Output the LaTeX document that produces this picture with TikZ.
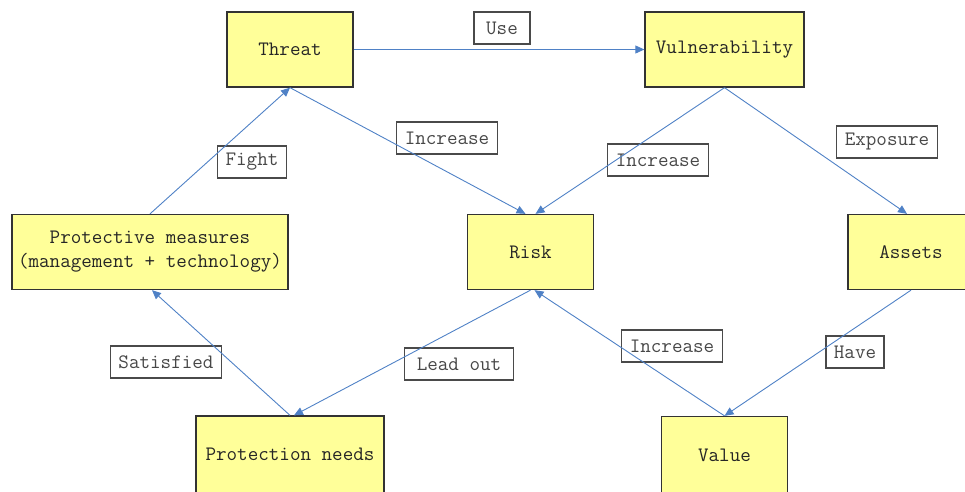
\documentclass[tikz,border=0pt]{standalone}
\usepackage{tikz}
\usetikzlibrary{arrows.meta,positioning}
\definecolor{boxfill}{HTML}{FFFF99}
\definecolor{boxline}{HTML}{333333}
\definecolor{arrowblue}{HTML}{4F81C6}
\definecolor{tagline}{HTML}{4A4A4A}

\begin{document}
\begin{tikzpicture}[x=1pt,y=-1pt,font=\ttfamily\fontsize{20.5}{24}\selectfont,
  block/.style={rectangle,draw=boxline,line width=1.3pt,fill=boxfill,text=black!85,
    minimum width=126pt,minimum height=75pt,align=center,inner sep=0pt},
  tag/.style={rectangle,draw=tagline,line width=1.3pt,text=black!72,
    inner xsep=8pt,inner ysep=0pt,minimum height=32pt,minimum width=56pt},
  arrow/.style={-{Triangle[length=9pt,width=8pt]},draw=arrowblue,line width=0.9pt}
]
\useasboundingbox (0,0) rectangle (965,491);
% boxes
\node[block] (thr) at (290,49.5) {Threat};
\node[block,minimum width=159pt] (vul) at (724.5,49.5) {Vulnerability};
\node[block,minimum width=276pt] (prot) at (150,252) {Protective measures\\(management + technology)};
\node[block] (risk) at (530.5,252) {Risk};
\node[block] (ass) at (911,252) {Assets};
\node[block,minimum width=188pt,minimum height=77pt] (need) at (290,454.5) {Protection needs};
\node[block,minimum height=77pt] (val) at (724.5,455) {Value};
% labels
\node[tag] (tUse) at (502,28) {Use};
\node[tag] (tInc1) at (447,138) {Increase};
\node[tag] (tInc2) at (658,160) {Increase};
\node[tag] (tExp) at (887,142) {Exposure};
\node[tag] (tFight) at (252,162) {Fight};
\node[tag,inner xsep=12pt] (tLead) at (459,364) {Lead out};
\node[tag] (tSat) at (166,362) {Satisfied};
\node[tag] (tInc3) at (672,346) {Increase};
\node[tag] (tHave) at (855,352) {Have};
% connectors
\draw[arrow] (thr) -- (vul);
\draw[arrow] (thr.south) -- ([xshift=-5pt]risk.north);
\draw[arrow] (vul.south) -- ([xshift=5pt]risk.north);
\draw[arrow] (vul.south) -- ([xshift=-4pt]ass.north);
\draw[arrow] (prot.north) -- (thr.south);
\draw[arrow] (risk.south) -- ([xshift=4pt]need.north);
\draw[arrow] (need.north) -- ([xshift=2pt]prot.south);
\draw[arrow] (val.north) -- ([xshift=4pt]risk.south);
\draw[arrow] (ass.south) -- (val.north);
\end{tikzpicture}
\end{document}
